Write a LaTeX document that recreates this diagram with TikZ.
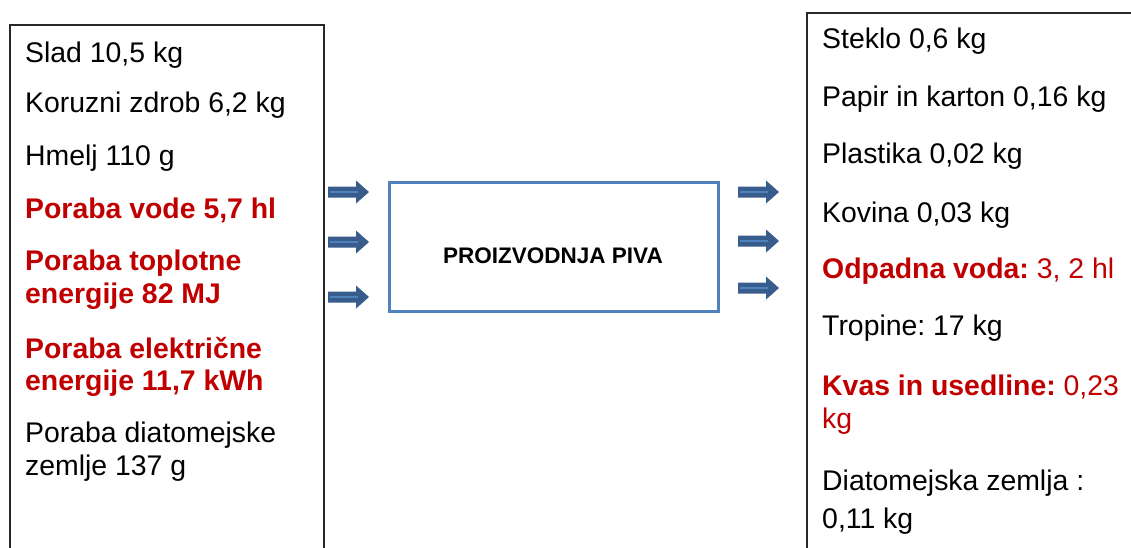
\documentclass[tikz,border=0pt]{standalone}
\usepackage{fontspec}
\setmainfont{Liberation Sans}
\frenchspacing
\definecolor{boxblue}{RGB}{79,129,189}
\definecolor{arrdark}{RGB}{56,93,140}
\definecolor{arrlight}{RGB}{79,129,189}
\definecolor{txtred}{RGB}{192,0,0}
\definecolor{frame}{RGB}{40,40,40}
\tikzset{
  txt/.style={anchor=base west, inner sep=0pt, font=\fontsize{28.4}{33}\selectfont},
  redb/.style={txt, text=txtred, font=\fontsize{28.4}{33}\selectfont\bfseries},
  red/.style={txt, text=txtred},
  blockarr/.pic={
    \fill[arrdark] (0,-5.5) -- (28,-5.5) -- (28,-11.5) -- (41,0) -- (28,11.5) -- (28,5.5) -- (0,5.5) -- cycle;
    \draw[arrlight, line width=2pt] (2,0) -- (30,0);
  }
}
\begin{document}
\begin{tikzpicture}[x=1pt,y=-1pt]
\clip (0,0) rectangle (1131,547);
\fill[white] (0,0) rectangle (1131,547);
% boxes
\node[draw=frame, line width=1.5pt, anchor=north west, minimum width=314pt, minimum height=560pt, inner sep=0pt] (inbox) at (9,24) {};
\node[draw=frame, line width=2.2pt, anchor=north west, minimum width=360pt, minimum height=560pt, inner sep=0pt] (outbox) at (806,12) {};
\node[draw=boxblue, line width=3pt, anchor=north west, minimum width=329pt, minimum height=129pt, inner sep=0pt] (proc) at (388,181) {};
\node[anchor=base, inner sep=0pt, font=\fontsize{22.5}{24}\selectfont\bfseries] (proclabel) at (553,263) {PROIZVODNJA PIVA};
% arrows
\pic at (328,192) {blockarr};
\pic at (328,242) {blockarr};
\pic at (328,297) {blockarr};
\pic at (738,192) {blockarr};
\pic at (738,241) {blockarr};
\pic at (738,288) {blockarr};
% inputs
\node[txt] (i1) at (25,62) {Slad 10,5 kg};
\node[txt] (i2) at (25,112) {Koruzni zdrob 6,2 kg};
\node[txt] (i3) at (25,165) {Hmelj 110 g};
\node[redb] (i4) at (25,218) {Poraba vode 5,7 hl};
\node[redb] (i5a) at (25,270) {Poraba toplotne};
\node[redb] (i5b) at (25,303) {energije 82 MJ};
\node[redb] (i6a) at (25,358) {Poraba električne};
\node[redb] (i6b) at (25,390) {energije 11,7 kWh};
\node[txt] (i7a) at (25,442) {Poraba diatomejske};
\node[txt] (i7b) at (25,475) {zemlje 137 g};
% outputs
\node[txt] (o1) at (822,48) {Steklo 0,6 kg};
\node[txt] (o2) at (822,106) {Papir in karton 0,16 kg};
\node[txt] (o3) at (822,163) {Plastika 0,02 kg};
\node[txt] (o4) at (822,222) {Kovina 0,03 kg};
\node[red] (o5) at (822,278) {\textbf{Odpadna voda:} 3, 2 hl};
\node[txt] (o6) at (822,335) {Tropine: 17 kg};
\node[red] (o7a) at (822,395) {\textbf{Kvas in usedline:} 0,23};
\node[red] (o7b) at (822,428) {kg};
\node[txt] (o8a) at (822,490) {Diatomejska zemlja :};
\node[txt] (o8b) at (822,528) {0,11 kg};
\end{tikzpicture}
\end{document}
